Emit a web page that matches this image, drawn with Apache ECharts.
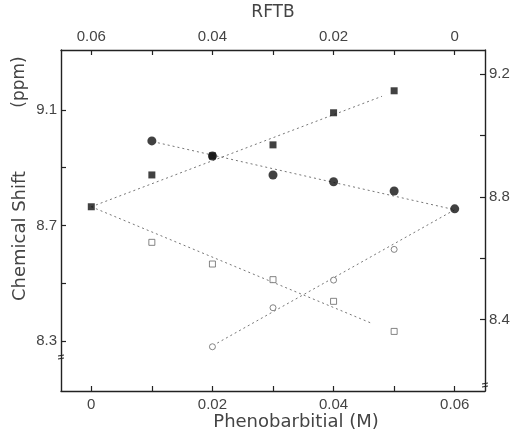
<!DOCTYPE html>
<html>
<head>
<meta charset="utf-8">
<script src="https://cdn.jsdelivr.net/npm/echarts@6/dist/echarts.min.js"></script>
<style>
  html, body { margin: 0; padding: 0; background: #fff; }
  #chart { width: 514px; height: 436px; }
</style>
</head>
<body>
<div id="chart"></div>
<script>
// Phenobarbital series (bottom axis, left shift scale)
const phenoConc        = [0, 0.01, 0.02, 0.03, 0.04, 0.05];
const shiftPhenoFilled = [8.765, 8.875, 8.941, 8.979, 9.090, 9.166];
const phenoOpenConc    = [0.01, 0.02, 0.03, 0.04, 0.05];
const shiftPhenoOpen   = [8.642, 8.567, 8.513, 8.438, 8.334];

// RFTB series (top axis, right shift scale)
const rftbConc         = [0.05, 0.04, 0.03, 0.02, 0.01, 0];
const shiftRftbFilled  = [8.982, 8.933, 8.871, 8.849, 8.819, 8.761];
const rftbOpenConc     = [0.04, 0.03, 0.02, 0.01];
const shiftRftbOpen    = [8.312, 8.439, 8.529, 8.629];

// Straight trend lines, each given by its two end points [conc, shift]
const trendPhenoFilled = [[0, 8.765], [0.048, 9.147]];
const trendPhenoOpen   = [[0, 8.765], [0.0464, 8.361]];
const trendRftbFilled  = [[0.049, 8.976], [0, 8.758]];
const trendRftbOpen    = [[0.0392, 8.324], [0, 8.758]];

// Axis ticks and labels
const concTicks   = [0, 0.01, 0.02, 0.03, 0.04, 0.05, 0.06];
const concLabels  = [0, 0.02, 0.04, 0.06];
const leftTicks   = [8.3, 8.5, 8.7, 8.9, 9.1];
const leftLabels  = [8.3, 8.7, 9.1];
const rightTicks  = [8.4, 8.6, 8.8, 9.0, 9.2];
const rightLabels = [8.4, 8.8, 9.2];

const pair = (xs, ys) => xs.map((x, i) => [x, ys[i]]);

const FONT = 'Liberation Sans';
const TITLE_FONT = 'DejaVu Sans';
const TXT = '#444';
const AX = '#222';

function concAxis(position, inverse) {
  return {
    type: 'value', position: position, inverse: inverse,
    min: -0.005, max: 0.065,
    axisLine: { show: true, onZero: false, lineStyle: { color: AX, width: 1.4 } },
    axisTick: { show: true, inside: true, length: 5, customValues: concTicks, lineStyle: { color: AX, width: 1.2 } },
    axisLabel: {
      show: true, customValues: concLabels, margin: 6,
      color: TXT, fontFamily: FONT, fontSize: 15,
      formatter: v => (v === 0 ? '0' : v.toFixed(2))
    },
    splitLine: { show: false }
  };
}

function shiftAxis(position, min, max, ticks, labels) {
  return {
    type: 'value', position: position, min: min, max: max,
    axisLine: { show: true, onZero: false, lineStyle: { color: AX, width: 1.4 } },
    axisTick: { show: true, inside: true, length: 5, customValues: ticks, lineStyle: { color: AX, width: 1.2 } },
    axisLabel: {
      show: true, customValues: labels, margin: 4,
      color: TXT, fontFamily: FONT, fontSize: 15,
      formatter: v => v.toFixed(1)
    },
    splitLine: { show: false }
  };
}

const trendStyle = { color: '#777', width: 1, type: [2, 3] };
function trend(data, xi, yi) {
  return {
    type: 'line', data: data, xAxisIndex: xi, yAxisIndex: yi,
    showSymbol: false, symbol: 'none', silent: true, z: 1,
    lineStyle: trendStyle
  };
}

function title(text, x, y, size, rot) {
  return {
    type: 'text', x: x, y: y, rotation: rot || 0,
    style: {
      text: text, fill: TXT, font: size + 'px "' + TITLE_FONT + '"',
      align: 'center', verticalAlign: 'middle',
      textAlign: 'center', textVerticalAlign: 'middle'
    }
  };
}

const chart = echarts.init(document.getElementById('chart'), null, { renderer: 'canvas' });
chart.setOption({
  animation: false,
  backgroundColor: '#fff',
  grid: { left: 61, right: 29, top: 50, bottom: 45 },
  xAxis: [concAxis('bottom', false), concAxis('top', true)],
  yAxis: [
    shiftAxis('left', 8.128, 9.307, leftTicks, leftLabels),
    shiftAxis('right', 8.168, 9.278, rightTicks, rightLabels)
  ],
  series: [
    trend(trendPhenoFilled, 0, 0),
    trend(trendPhenoOpen, 0, 0),
    trend(trendRftbFilled, 1, 1),
    trend(trendRftbOpen, 1, 1),
    {
      type: 'scatter', xAxisIndex: 0, yAxisIndex: 0, z: 3,
      symbol: 'rect', symbolSize: 7,
      itemStyle: { color: '#111' },
      data: pair(phenoConc, shiftPhenoFilled)
    },
    {
      type: 'scatter', xAxisIndex: 0, yAxisIndex: 0, z: 3,
      symbol: 'rect', symbolSize: 6,
      itemStyle: { color: '#fff', borderColor: '#666', borderWidth: 1 },
      data: pair(phenoOpenConc, shiftPhenoOpen)
    },
    {
      type: 'scatter', xAxisIndex: 1, yAxisIndex: 1, z: 3,
      symbol: 'circle', symbolSize: 9,
      itemStyle: { color: '#111' },
      data: pair(rftbConc, shiftRftbFilled)
    },
    {
      type: 'scatter', xAxisIndex: 1, yAxisIndex: 1, z: 3,
      symbol: 'circle', symbolSize: 6,
      itemStyle: { color: '#fff', borderColor: '#666', borderWidth: 1 },
      data: pair(rftbOpenConc, shiftRftbOpen)
    }
  ],
  graphic: [
    title('RFTB', 273, 13, 17),
    title('Phenobarbitial (M)', 296, 422, 18),
    title('Chemical Shift', 20, 236, 18, Math.PI / 2),
    title('(ppm)', 20, 82, 17, Math.PI / 2),
    // axis break marks
    { type: 'line', shape: { x1: 58, y1: 356, x2: 64, y2: 355 }, style: { stroke: AX, lineWidth: 1 } },
    { type: 'line', shape: { x1: 58, y1: 359, x2: 64, y2: 358 }, style: { stroke: AX, lineWidth: 1 } },
    { type: 'line', shape: { x1: 482, y1: 384, x2: 488, y2: 383 }, style: { stroke: AX, lineWidth: 1 } },
    { type: 'line', shape: { x1: 482, y1: 387, x2: 488, y2: 386 }, style: { stroke: AX, lineWidth: 1 } }
  ]
});
</script>
</body>
</html>
